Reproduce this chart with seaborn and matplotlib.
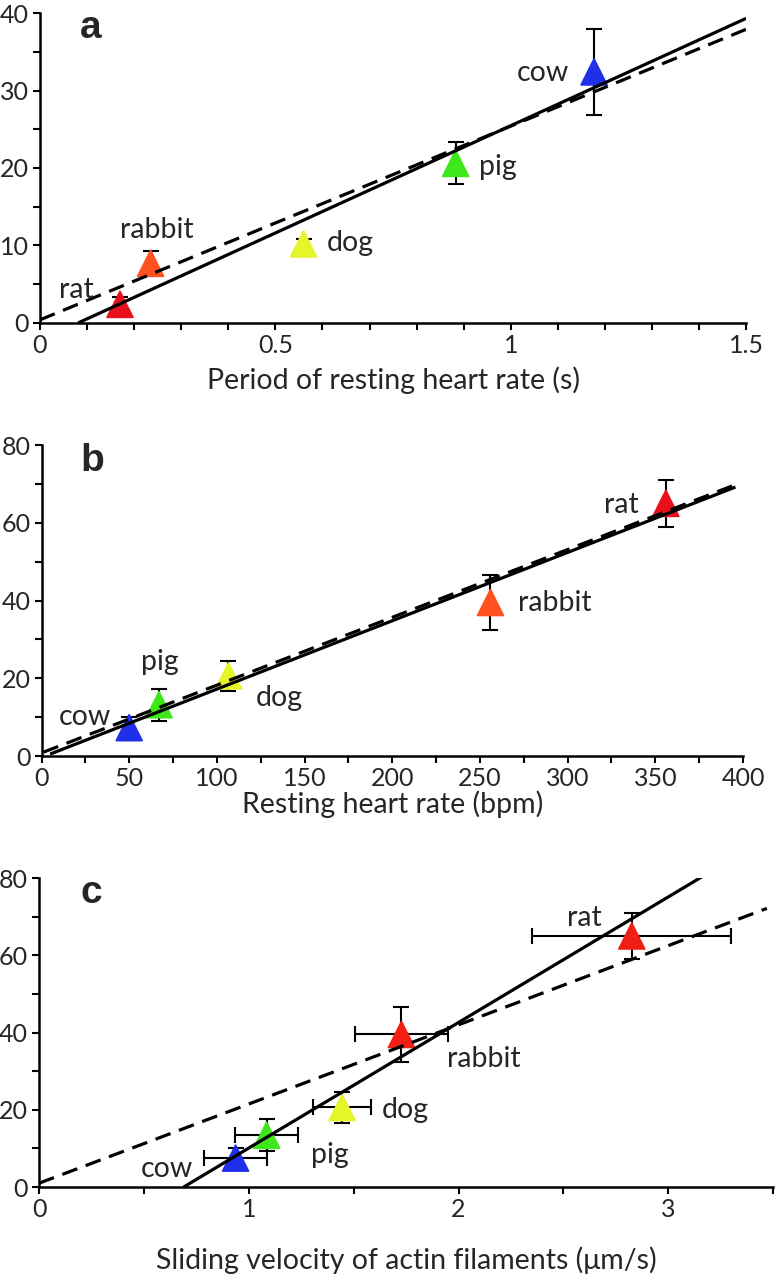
import matplotlib
matplotlib.use('Agg')
from matplotlib import pyplot as plt
from matplotlib.ticker import MultipleLocator, FuncFormatter
import pandas as pd
import seaborn as sns

# species in the same order for every panel
species = ['rat', 'rabbit', 'dog', 'pig', 'cow']
colors_ab = ['#e8101a', '#ff5220', '#e6f52a', '#3ee61a', '#1f30e8']
colors_c = ['#f01e14', '#f01e14', '#e6f52a', '#3ee61a', '#1f30e8']

# panel a: period of resting heart rate (s)
a_x = [0.17, 0.235, 0.56, 0.883, 1.177]
a_y = [2.4, 7.7, 10.2, 20.6, 32.4]
a_yerr = [1.0, 1.6, 0.6, 2.7, 5.5]

# panel b: resting heart rate (bpm)
b_x = [356, 256, 106.6, 67, 50]
b_y = [65, 39.5, 20.6, 13.2, 7.3]
b_yerr = [6, 7, 3.9, 4.1, 2.8]

# panel c: sliding velocity of actin filaments (um/s)
c_x = [2.826, 1.728, 1.445, 1.085, 0.937]
c_xerr = [0.475, 0.22, 0.14, 0.15, 0.15]
c_y = [65, 39.5, 20.6, 13.4, 7.5]
c_yerr = [6, 7, 3.9, 4.1, 2.5]

# fitted lines: slope, intercept, x start, x end
a_solid = [27.7, -2.24, 0.081, 1.5]
a_dash = [25.0, 0.4, 0.0, 1.5]
b_solid = [0.1758, -0.36, 4.9, 395.7]
b_dash = [0.1744, 0.8, 1.0, 395.0]
c_solid = [32.5, -22.4, 0.689, 3.187]
c_dash = [20.5, 1.0, 0.0, 3.47]

# label anchors (left, baseline) in data units
a_lab_x = [0.04, 0.17, 0.609, 0.932, 1.013]
a_lab_y = [3.2, 11.0, 9.3, 19.1, 31.2]
b_lab_x = [321, 271.7, 122, 56.7, 10]
b_lab_y = [62.5, 37.3, 12.9, 22.1, 8.0]
c_lab_x = [2.519, 1.947, 1.633, 1.295, 0.486]
c_lab_y = [67.6, 31.2, 18.0, 6.2, 2.6]

sns.set_theme(style='ticks')
plt.rcParams['font.family'] = ['Lato', 'DejaVu Sans']
plt.rcParams['axes.linewidth'] = 1.8

fig = plt.figure(figsize=(7.76, 12.76), dpi=100)
ax_a = fig.add_axes([0.0515, 0.7469, 0.910, 0.2429])
ax_b = fig.add_axes([0.0535, 0.4075, 0.904, 0.2437])
ax_c = fig.add_axes([0.0503, 0.0697, 0.946, 0.2422])


def fit_line(ax, p, dashed):
    xs = [p[2], p[3]]
    ys = [p[0] * v + p[1] for v in xs]
    line, = ax.plot(xs, ys, color='black', lw=2.3, zorder=4, solid_capstyle='butt')
    if dashed:
        line.set_dashes((5, 2.8))


def panel(ax, x, y, yerr, colors, lab_x, lab_y, letter, xlim, ylim,
          xmaj, xmin, ymaj, ymin, xlabel, xerr=None):
    df = pd.DataFrame({'x': x, 'y': y, 'species': species})
    ax.errorbar(x, y, yerr=yerr, xerr=xerr, fmt='none', ecolor='black',
                elinewidth=1.5, capsize=5.5, capthick=1.5, zorder=2)
    sns.scatterplot(data=df, x='x', y='y', hue='species', palette=colors,
                    marker='^', s=350, edgecolor=colors, linewidth=1.2,
                    legend=False, zorder=3, ax=ax)
    for s, tx, ty in zip(species, lab_x, lab_y):
        ax.text(tx, ty, s, fontsize=20.5, va='baseline', ha='left', zorder=5)
    ax.text(0.056, 0.918, letter, transform=ax.transAxes, fontsize=28,
            fontweight='bold', family='Liberation Sans', va='baseline')
    ax.set_xlim(*xlim)
    ax.set_ylim(*ylim)
    ax.xaxis.set_major_locator(MultipleLocator(xmaj))
    ax.xaxis.set_minor_locator(MultipleLocator(xmin))
    ax.yaxis.set_major_locator(MultipleLocator(ymaj))
    ax.yaxis.set_minor_locator(MultipleLocator(ymin))
    fmt = FuncFormatter(lambda v, pos: '%g' % v)
    ax.xaxis.set_major_formatter(fmt)
    ax.yaxis.set_major_formatter(fmt)
    ax.tick_params(which='both', direction='out', length=5, width=1.5,
                   color='black', labelsize=18, pad=3)
    ax.set_xlabel(xlabel, fontsize=20.5, labelpad=7)
    ax.set_ylabel('')
    sns.despine(ax=ax)
    ax.spines['left'].set_color('black')
    ax.spines['bottom'].set_color('black')
    for sp in ax.spines.values():
        sp.set_clip_on(False)


panel(ax_a, a_x, a_y, a_yerr, colors_ab, a_lab_x, a_lab_y, 'a',
      (0, 1.5), (0, 40), 0.5, 0.1, 10, 5, 'Period of resting heart rate (s)')
fit_line(ax_a, a_solid, False)
fit_line(ax_a, a_dash, True)

panel(ax_b, b_x, b_y, b_yerr, colors_ab, b_lab_x, b_lab_y, 'b',
      (0, 400), (0, 80), 50, 25, 20, 10, 'Resting heart rate (bpm)')
fit_line(ax_b, b_solid, False)
fit_line(ax_b, b_dash, True)
ax_b.xaxis.labelpad = 0

panel(ax_c, c_x, c_y, c_yerr, colors_c, c_lab_x, c_lab_y, 'c',
      (0, 3.5), (0, 80), 1, 0.5, 20, 10,
      'Sliding velocity of actin filaments (\u03bcm/s)', xerr=c_xerr)
fit_line(ax_c, c_solid, False)
fit_line(ax_c, c_dash, True)
ax_c.xaxis.labelpad = 18

fig.savefig('out.png', dpi=100)
